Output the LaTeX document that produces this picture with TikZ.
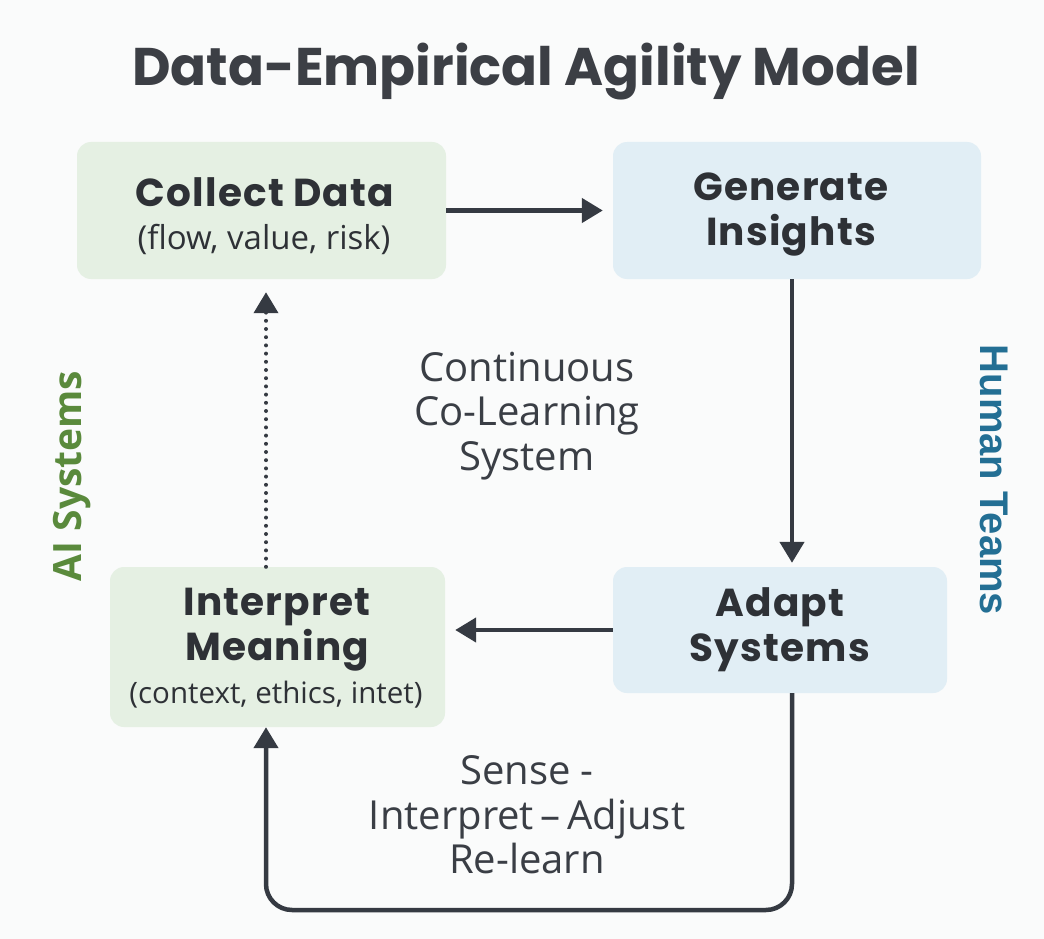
\documentclass[tikz,border=0pt]{standalone}
\usepackage{fontspec}
\setmainfont{Open Sans}
\newfontfamily\popfont[LetterSpace=3]{Poppins}
\newfontfamily\titlefont{Poppins}
\newfontfamily\opensansfont{Open Sans}
\newfontfamily\libsansfont{Liberation Sans}
\usetikzlibrary{arrows.meta,positioning}
\definecolor{bgcol}{HTML}{FAFBFB}
\definecolor{greenbox}{HTML}{E5F0E3}
\definecolor{bluebox}{HTML}{E1EEF5}
\definecolor{txt}{HTML}{2E3136}
\definecolor{titlecol}{HTML}{3C3F45}
\definecolor{txtlight}{HTML}{3A3E45}
\definecolor{arrcol}{HTML}{353A42}
\definecolor{aigreen}{HTML}{5A8A3C}
\definecolor{humanblue}{HTML}{236F94}
\tikzset{
  boxnode/.style={rounded corners=14pt, draw=none, align=center, inner sep=0pt, text=txt},
  gbox/.style={boxnode, fill=greenbox},
  bbox/.style={boxnode, fill=bluebox},
  arr/.style={draw=arrcol, line width=4.5pt, -{Triangle[width=24pt,length=21pt]}},
  dotarr/.style={draw=arrcol, line width=4pt, line cap=round, dash pattern=on 0pt off 8.2pt, -{Triangle[width=24pt,length=21pt,line cap=butt]}},
  mid/.style={align=center, text=txtlight, font=\fontsize{40}{44.5}\selectfont},
  boldt/.style={font=\popfont\bfseries\fontsize{39}{45}\selectfont},
}
\begin{document}
\begin{tikzpicture}[x=1pt,y=-1pt]
\useasboundingbox (0,0) rectangle (1044,939);
\fill[bgcol] (0,0) rectangle (1044,939);

\node[text=titlecol, font=\titlefont\bfseries\fontsize{53}{60}\selectfont] (title) at (526,72) {Data-Empirical Agility Model};

\node[gbox, minimum width=369pt, minimum height=137pt] (collect) at (261.5,210.5) {};
\node[boldt, text=txt, anchor=base] (collectT) at (265,206) {Collect Data};
\node[text=txt, anchor=base, font=\fontsize{33}{36}\selectfont] (collectS) at (264,249) {(flow, value, risk)};

\node[bbox, minimum width=368pt, minimum height=137pt] (gen) at (797,210.5) {};
\node[boldt, text=txt, align=center] (genT) at (791,215) {Generate\\Insights};

\node[gbox, minimum width=335pt, minimum height=160pt] (interp) at (277.5,647) {};
\node[boldt, text=txt, align=center] (interpT) at (277,630) {Interpret\\Meaning};
\node[text=txt, anchor=base, font=\fontsize{29.5}{32}\selectfont] (interpS) at (276,703) {(context, ethics, intet)};

\node[bbox, minimum width=334pt, minimum height=126pt] (adapt) at (780,630) {};
\node[boldt, text=txt, align=center] (adaptT) at (780,630) {Adapt\\Systems};

\node[mid] (colearn) at (527,416) {Continuous\\Co-Learning\\System};
\node[mid] (loop) at (527,815) {Sense -\\Interpret\,--\,Adjust\\Re-learn};

\node[rotate=90, text=aigreen, font=\opensansfont\bfseries\fontsize{39}{44}\selectfont] (ai) at (72,476) {AI Systems};
\node[rotate=-90, text=humanblue, font=\libsansfont\bfseries\fontsize{40}{44}\selectfont] (human) at (994,480) {Human Teams};

\draw[arr, shorten >=10pt] (collect.east) -- (gen.west);
\draw[arr, shorten >=4pt] ([xshift=-5pt]gen.south) -- ([xshift=12pt]adapt.north);
\draw[arr, shorten >=10pt] (adapt.west) -- (interp.east |- adapt.west);
\draw[dotarr, shorten >=13pt] ([xshift=-11.5pt]interp.north) -- ([xshift=4.5pt]collect.south);
\coordinate (lb) at (266,910);
\draw[arr, rounded corners=26pt] ([xshift=12pt]adapt.south) |- (lb) -- ([xshift=-11.5pt]interp.south);
\end{tikzpicture}
\end{document}
